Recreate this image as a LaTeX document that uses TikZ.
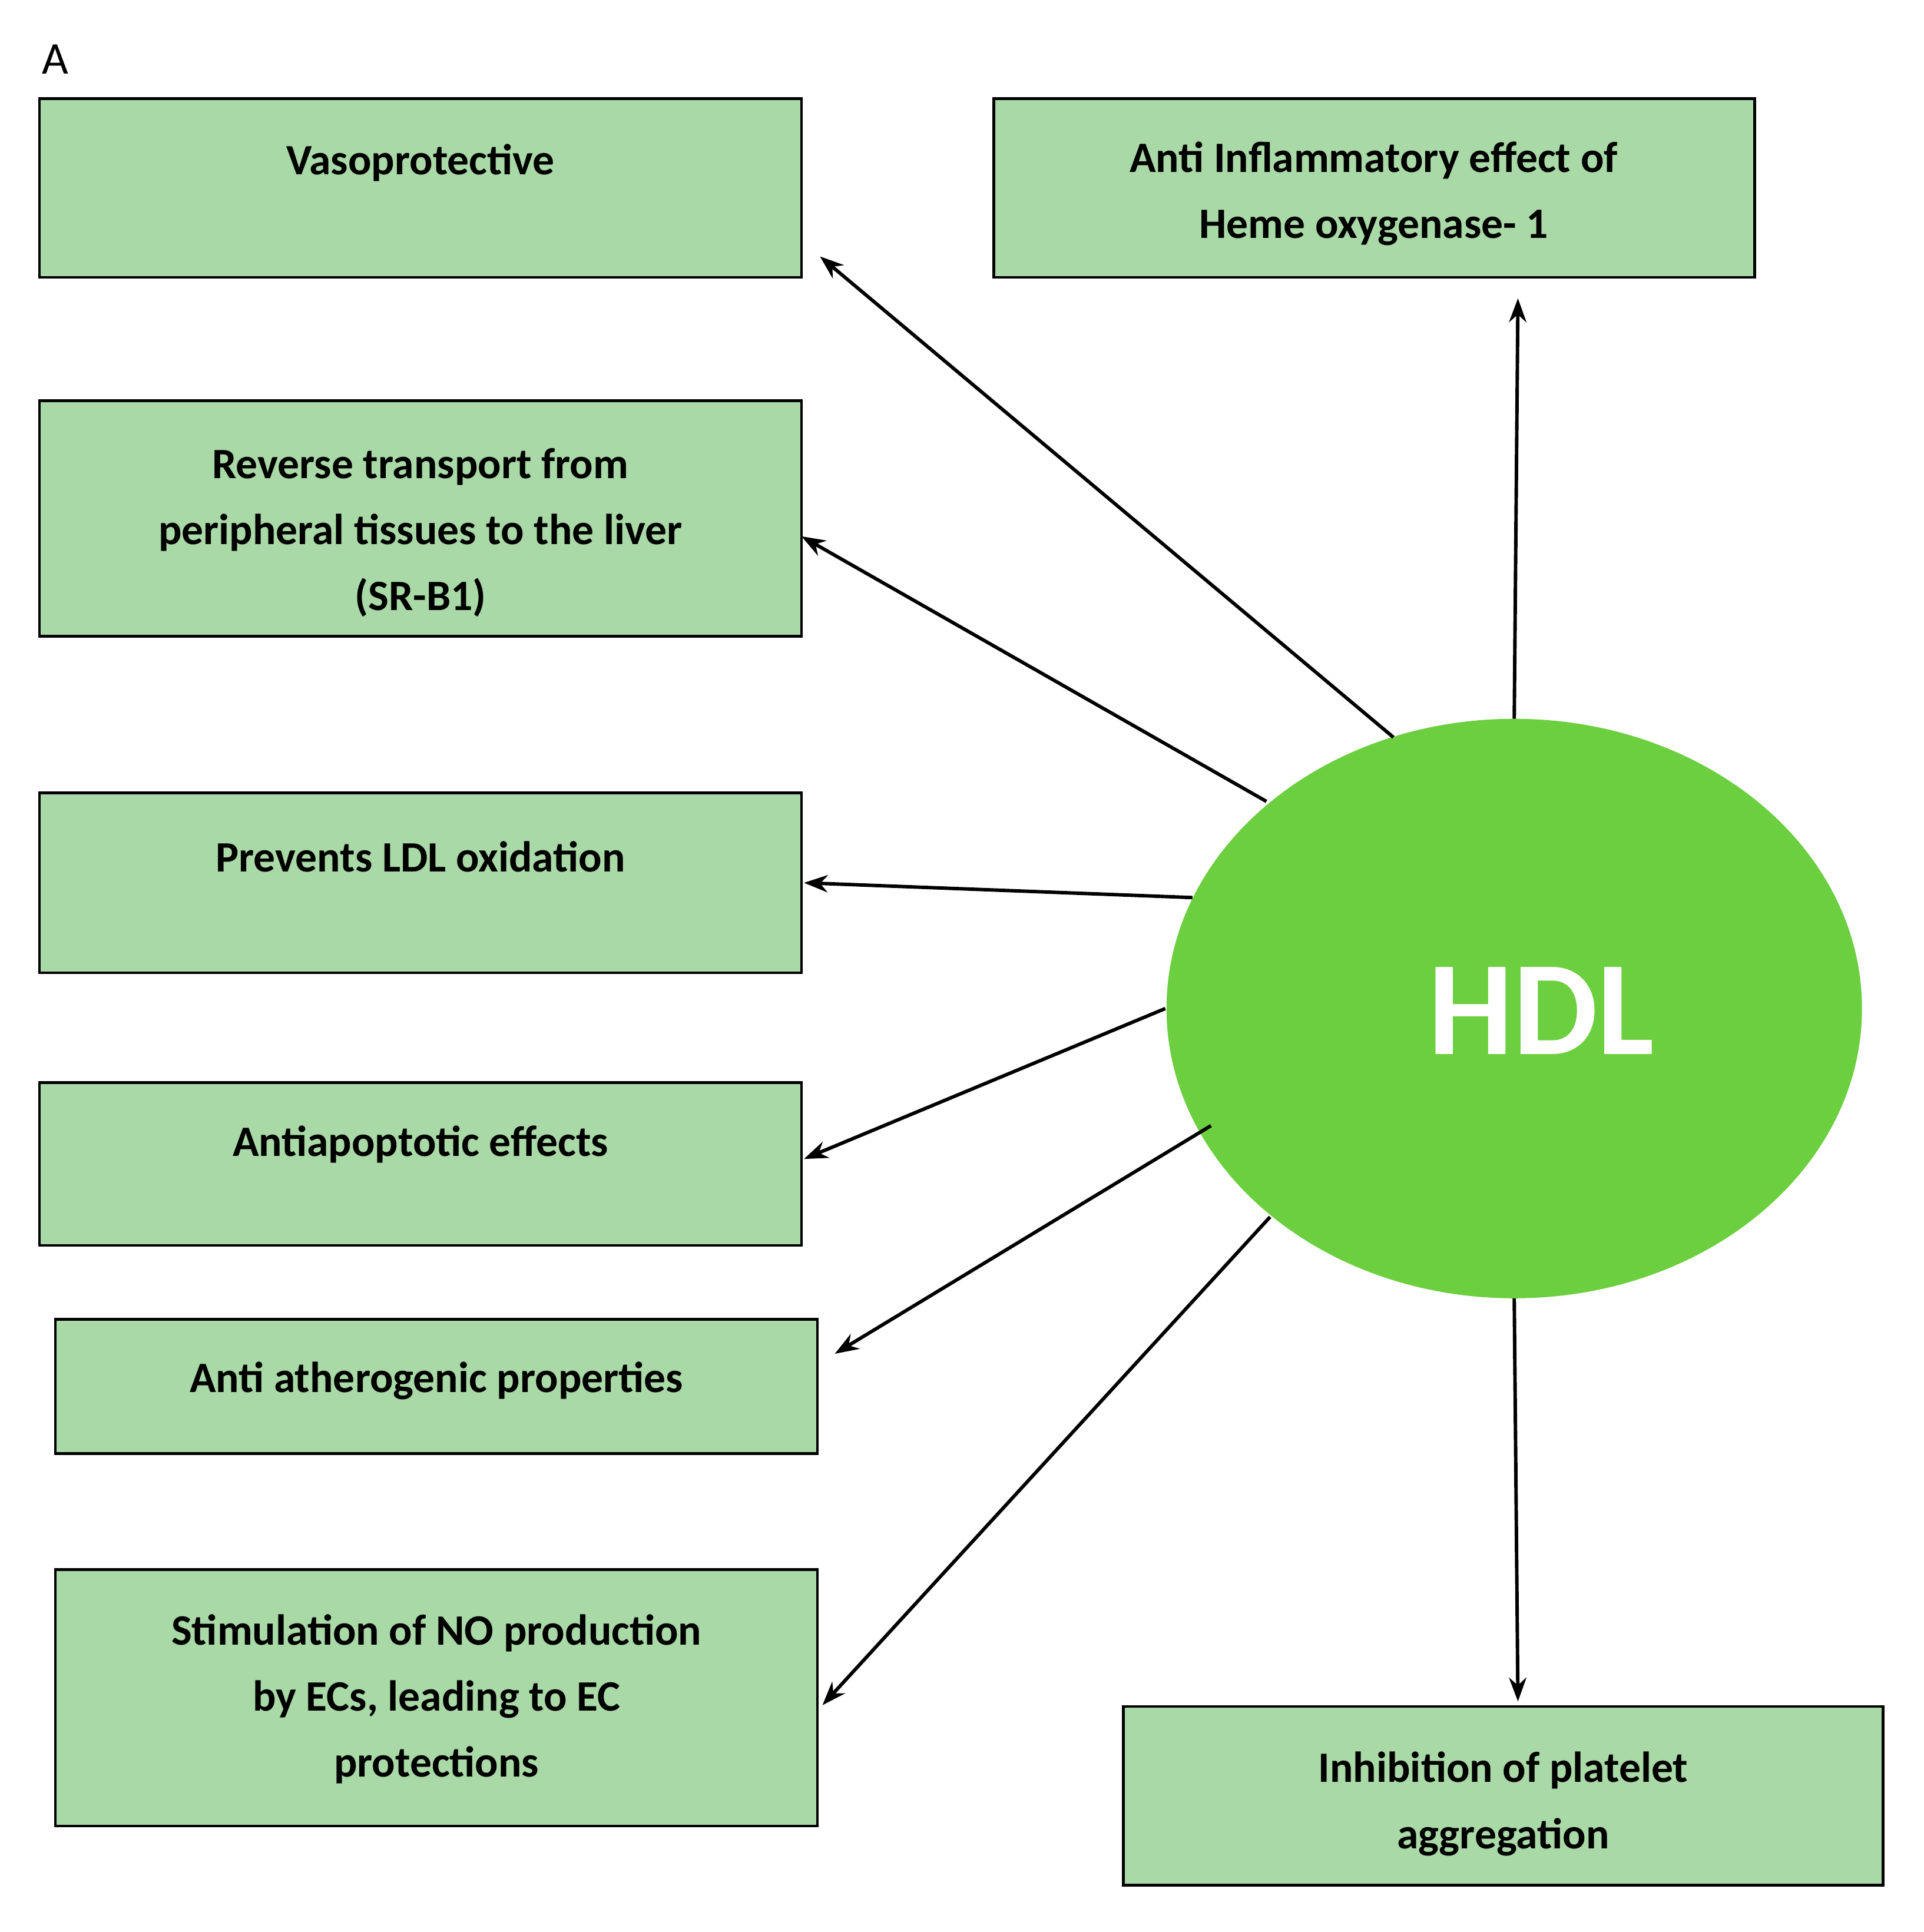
\documentclass[tikz,border=0pt]{standalone}
\usepackage{fontspec}
\setmainfont{Carlito}
\usetikzlibrary{arrows.meta}
\definecolor{boxg}{HTML}{A9D9A6}
\definecolor{hdlg}{HTML}{6CCF3F}
\begin{document}
\begin{tikzpicture}[x=0.02cm,y=-0.02cm,
  box/.style={draw=black,line width=1.2pt,fill=boxg},
  lbl/.style={font=\fontsize{20}{30.5}\selectfont\bfseries,align=center,inner sep=0},
  arr/.style={line width=1.6pt,-{Stealth[length=11pt,width=8pt]}}]
\useasboundingbox (0,0) rectangle (1560,1567);
\node[font=\fontsize{21}{24}\selectfont,inner sep=0] (A) at (45,48) {A};
\draw[box] (32,80) rectangle (650,225) node[pos=0,anchor=north west,inner sep=0] (b1) {};
\draw[box] (806,80) rectangle (1423,225);
\draw[box] (32,325) rectangle (650,516);
\draw[box] (32,643) rectangle (650,789);
\draw[box] (32,878) rectangle (650,1010);
\draw[box] (45,1070) rectangle (663,1179);
\draw[box] (45,1273) rectangle (663,1481);
\draw[box] (911,1384) rectangle (1527,1529);
\node[lbl] (t1) at (341,132) {Vasoprotective};
\node[lbl] (t2) at (1114,157) {Anti Inflammatory effect of\\Heme oxygenase- 1};
\node[lbl] (t3) at (341,432) {Reverse transport from\\peripheral tissues to the liver\\(SR-B1)};
\node[lbl] (t4) at (341,695) {Prevents LDL oxidation};
\node[lbl] (t5) at (341,928) {Antiapoptotic effects};
\node[lbl] (t6) at (354,1120) {Anti atherogenic properties};
\node[lbl] (t7) at (354,1378) {Stimulation of NO production\\by ECs, leading to EC\\protections};
\node[lbl] (t8) at (1219,1463) {Inhibition of platelet\\aggregation};
\fill[hdlg] (1228,818) ellipse [x radius=282, y radius=235];
\node[font=\fontsize{62}{70}\selectfont\bfseries,text=white,inner sep=0] (hdl) at (1250,820) {HDL};
\coordinate (s1) at (1130,598); \coordinate (e1) at (665,208);
\coordinate (s2) at (1027,650); \coordinate (e2) at (650,435);
\coordinate (s3) at (967,728); \coordinate (e3) at (652,716);
\coordinate (s4) at (945,818); \coordinate (e4) at (652,940);
\coordinate (s5) at (982,913); \coordinate (e5) at (677,1098);
\coordinate (s6) at (1030,987); \coordinate (e6) at (667,1383);
\coordinate (s7) at (1228,583); \coordinate (e7) at (1231,242);
\coordinate (s8) at (1228,1053); \coordinate (e8) at (1231,1380);
\foreach \i in {1,...,8} \draw[arr] (s\i) -- (e\i);
\end{tikzpicture}
\end{document}
